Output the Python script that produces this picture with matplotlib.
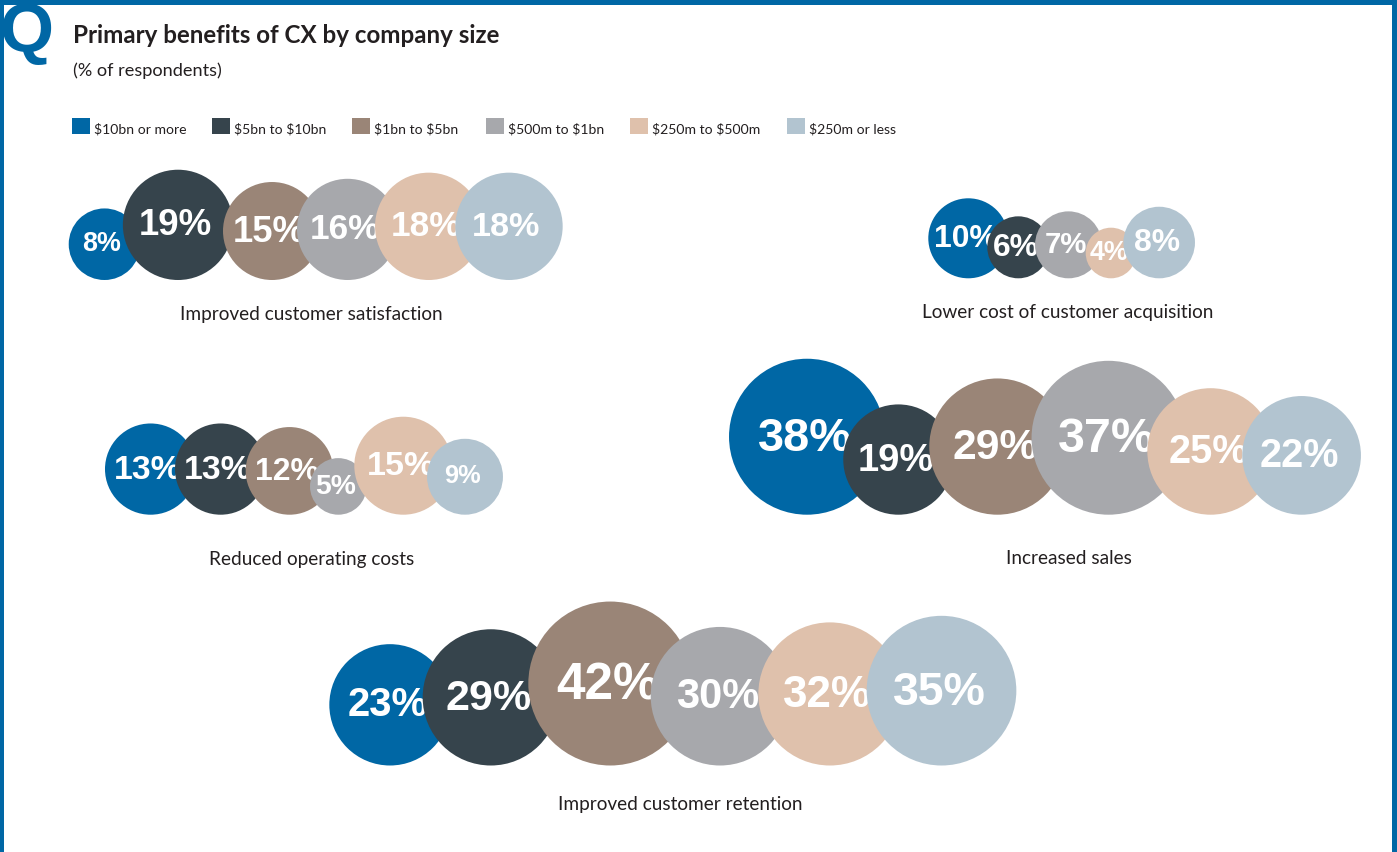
import matplotlib
matplotlib.use("Agg")
import matplotlib.pyplot as plt
from matplotlib.patches import Circle, Rectangle
import numpy as np

# ---------------- data ----------------
size_bands = ["$10bn or more", "$5bn to $10bn", "$1bn to $5bn",
              "$500m to $1bn", "$250m to $500m", "$250m or less"]
benefits = ["Improved customer satisfaction", "Lower cost of customer acquisition",
            "Reduced operating costs", "Increased sales", "Improved customer retention"]
satisfaction = [8, 19, 15, 16, 18, 18]
acquisition = [10, 6, None, 7, 4, 8]
operating = [13, 13, 12, 5, 15, 9]
sales = [38, 19, 29, 37, 25, 22]
retention = [23, 29, 42, 30, 32, 35]
series = [satisfaction, acquisition, operating, sales, retention]

# ---------------- style / layout ----------------
colors = ["#0067A5", "#36444C", "#9A8577", "#A7A8AC", "#DFC1AC", "#B2C4D0"]
blue = "#0067A5"
W, H = 1397, 853
K = 12.65  # px per sqrt(percentage point) -> circle area proportional to value

centers_x = [
    [104.5, 178, 272, 347.6, 428.7, 509],
    [968.3, 1018.3, None, 1068.5, 1111, 1159.2],
    [150.6, 220.6, 289.5, 338.3, 403.3, 465.0],
    [807, 898.4, 997.4, 1108.5, 1210.6, 1301.6],
    [390, 490.8, 610.3, 720, 829.9, 941.5],
]
# digit height of each bubble label, px
label_heights = [
    [18.3, 25, 25, 24, 24, 23.3],
    [21.7, 21.7, None, 20, 18.3, 21.7],
    [23, 23, 21.7, 19.3, 23.3, 17.3],
    [32, 26, 29, 33, 27, 27],
    [27.3, 29.3, 35, 28.3, 30, 31.7],
]
bottoms_y = [281, 279.3, 515.7, 515.7, 766.5]
group_label_pos = [(311, 320), (1068, 317.7), (312, 565.5), (1068.5, 564.5), (680, 810.5)]

legend_sq_x = [72, 212, 352, 486, 630, 787]
legend_y = (119, 135)

text_font = ["Lato", "DejaVu Sans"]
num_font = ["Liberation Sans", "DejaVu Sans"]

fig = plt.figure(figsize=(W / 100, H / 100), dpi=100)
ax = fig.add_axes([0, 0, 1, 1])
ax.set_xlim(0, W)
ax.set_ylim(H, 0)
ax.axis("off")

# frame
ax.add_patch(Rectangle((0, 0), W, 6, color=blue, zorder=50, lw=0))
ax.add_patch(Rectangle((0, 0), 4, H, color=blue, zorder=50, lw=0))
ax.add_patch(Rectangle((W - 5, 0), 5, H, color=blue, zorder=50, lw=0))
ax.text(26, 51, "Q", color=blue, fontsize=50, fontweight="bold",
        family=num_font, ha="center", va="baseline", zorder=51)

# title
ax.text(73, 43.3, "Primary benefits of CX by company size", fontsize=17.4,
        fontweight="bold", family=text_font, color="#231F20", ha="left", va="baseline")
ax.text(73, 75.5, "(% of respondents)", fontsize=13.1, family=text_font,
        color="#231F20", ha="left", va="baseline")

# legend
for lab, col, sx in zip(size_bands, colors, legend_sq_x):
    ax.add_patch(Rectangle((sx, legend_y[0]), 17.5, legend_y[1] - legend_y[0], color=col, lw=0))
    ax.text(sx + 22, 133.3, lab.replace("$", r"\$"), fontsize=10.1, family=text_font,
            color="#231F20", ha="left", va="baseline")

# bubbles
for vals, cxs, hs, by, name, (lx, ly) in zip(series, centers_x, label_heights,
                                               bottoms_y, benefits, group_label_pos):
    z = 2
    for v, cx, h, col in zip(vals, cxs, hs, colors):
        if v is None:
            continue
        r = K * np.sqrt(v)
        cy = by - r
        ax.add_patch(Circle((cx, cy), r, color=col, lw=0, zorder=z))
        fs = h / 0.716 * 0.72 * 1.05  # font size in pt
        ax.text(cx - 2.5, cy - 3 + h / 2, f"{v}%", color="white", fontsize=fs,
                fontweight="bold", family=num_font, ha="center", va="baseline",
                zorder=z + 1)
        z += 2
    ax.text(lx, ly, name, fontsize=13.7, family=text_font, color="#231F20",
            ha="center", va="baseline")

fig.savefig("out.png", dpi=100)
